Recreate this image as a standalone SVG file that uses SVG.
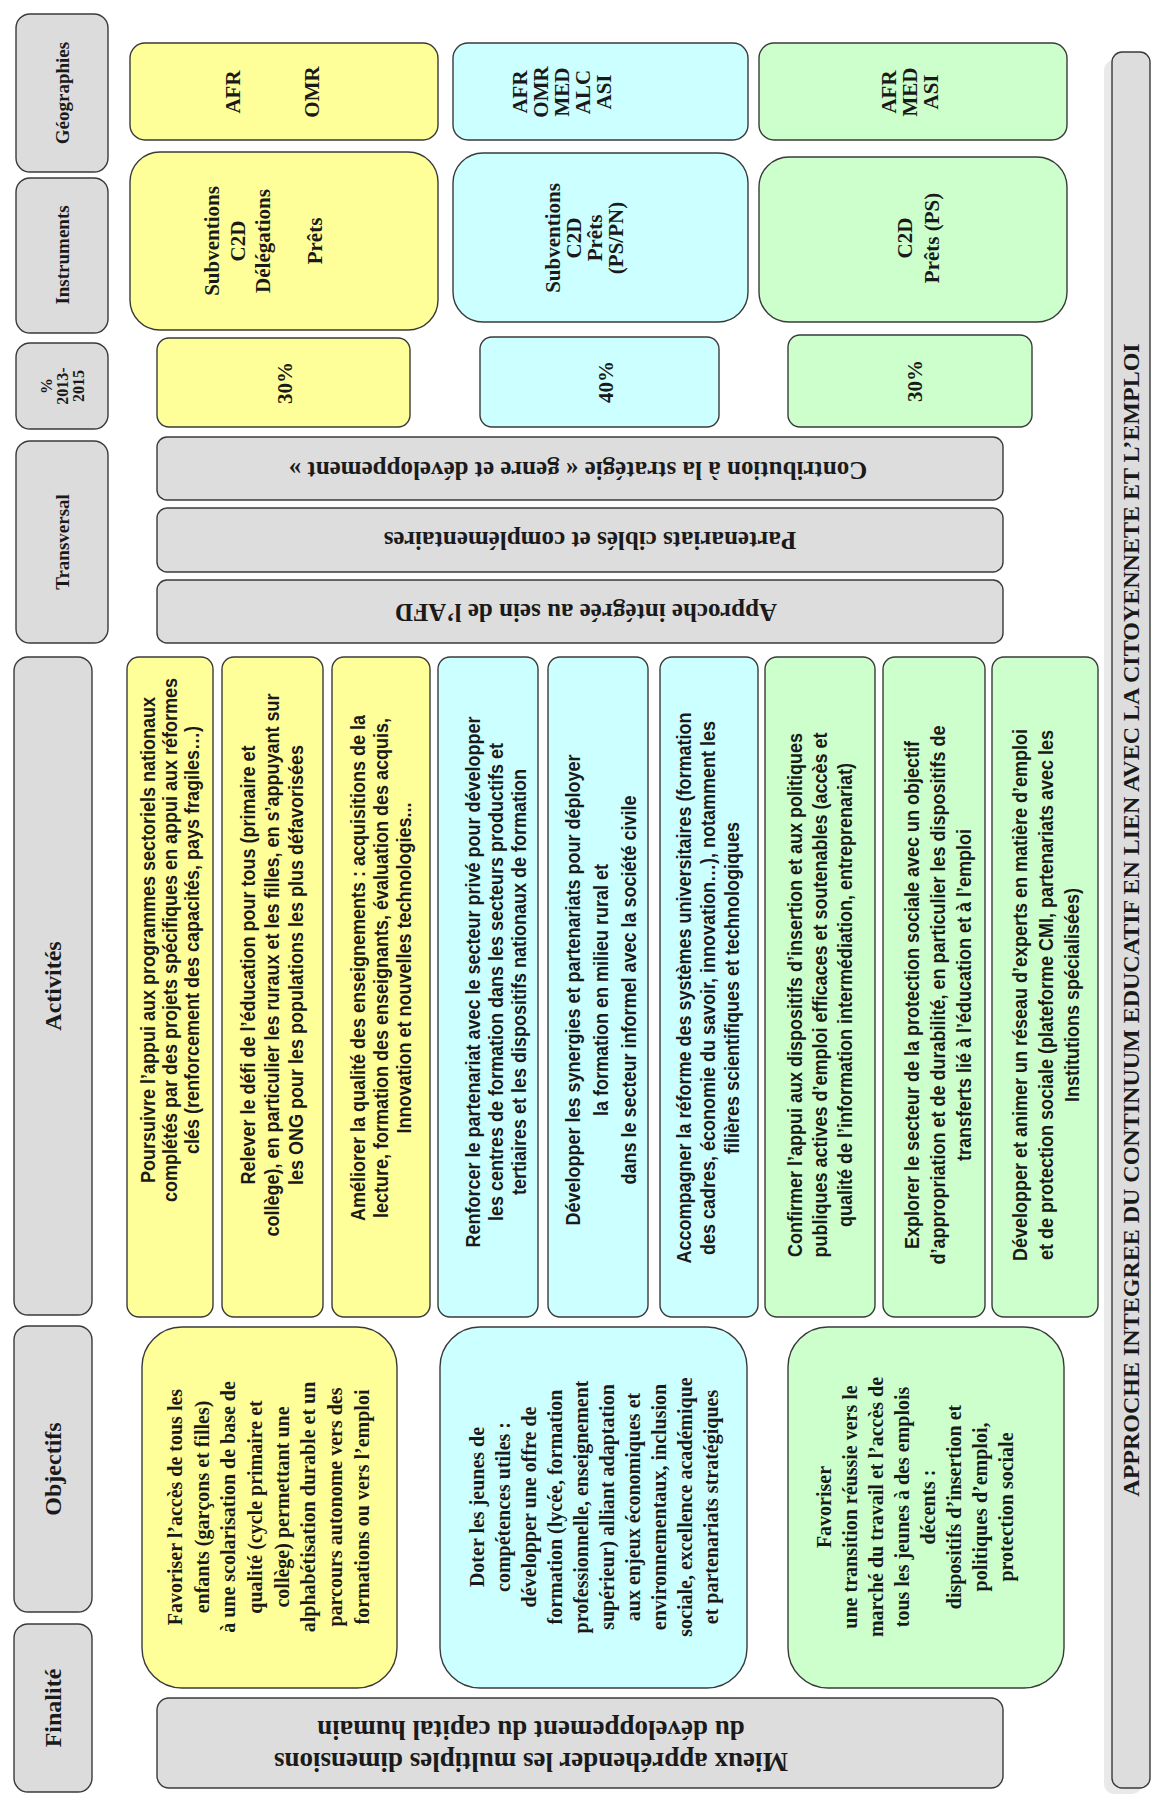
<svg xmlns="http://www.w3.org/2000/svg" width="1157" height="1800" viewBox="0 0 1157 1800">
<style>
.bx{stroke:#3a3a3a;stroke-width:1.4}
.hd{fill:#dcdcdc}
.ye{fill:#ffff99}
.cy{fill:#ccffff}
.gr{fill:#ccffcc}
.gy{fill:#dddddd}
text{font-family:'Liberation Serif','Times New Roman',serif;font-weight:bold;fill:#1a1a1a;text-anchor:middle;dominant-baseline:central}
.h1{font-size:19px}
.h2{font-size:24px}
.geo{font-size:21px}
.ob{font-size:20px}
.tr{font-size:25px}
.ac{font-family:'Liberation Sans',Arial,sans-serif;font-size:20px}
</style>
<rect width="1157" height="1800" fill="#ffffff"/>

<!-- Headers -->
<g id="h-geo"><rect class="bx hd" x="16" y="14" width="92" height="158" rx="14"/><text class="h1" transform="translate(62,93) rotate(-90)">Géographies</text></g>
<g id="h-instr"><rect class="bx hd" x="16" y="178" width="92" height="155" rx="14"/><text class="h1" transform="translate(62,255) rotate(-90)">Instruments</text></g>
<g id="h-pct"><rect class="bx hd" x="16" y="343" width="92" height="86" rx="14"/><g transform="translate(62,386) rotate(-90)"><text style="font-size:16px" y="-16">%</text><text style="font-size:16px" y="0">2013-</text><text style="font-size:16px" y="16">2015</text></g></g>
<g id="h-trans"><rect class="bx hd" x="16" y="441" width="92" height="202" rx="14"/><text class="h1" transform="translate(62,542) rotate(-90)">Transversal</text></g>
<g id="h-act"><rect class="bx hd" x="14" y="657" width="78" height="658" rx="14"/><text class="h2" transform="translate(53,986) rotate(-90)">Activités</text></g>
<g id="h-obj"><rect class="bx hd" x="14" y="1326" width="78" height="286" rx="14"/><text class="h2" transform="translate(53,1469) rotate(-90)">Objectifs</text></g>
<g id="h-fin"><rect class="bx hd" x="14" y="1624" width="78" height="168" rx="14"/><text class="h2" transform="translate(53,1708) rotate(-90)">Finalité</text></g>

<!-- Geographies -->
<g id="geo-y"><rect class="bx ye" x="130" y="43" width="308" height="97" rx="15"/><g transform="translate(0,92) rotate(-90)"><text class="geo" y="233">AFR</text><text class="geo" y="312">OMR</text></g></g>
<g id="geo-c"><rect class="bx cy" x="453" y="43" width="295" height="97" rx="15"/><g transform="translate(0,92) rotate(-90)"><text class="geo" y="520">AFR</text><text class="geo" y="541">OMR</text><text class="geo" y="562">MED</text><text class="geo" y="583">ALC</text><text class="geo" y="604">ASI</text></g></g>
<g id="geo-g"><rect class="bx gr" x="759" y="43" width="308" height="97" rx="15"/><g transform="translate(0,92) rotate(-90)"><text class="geo" y="889">AFR</text><text class="geo" y="910">MED</text><text class="geo" y="931">ASI</text></g></g>

<!-- Instruments -->
<g id="ins-y"><rect class="bx ye" x="130" y="152" width="308" height="178" rx="30"/><g transform="translate(0,241) rotate(-90)"><text class="geo" y="212">Subventions</text><text class="geo" y="238">C2D</text><text class="geo" y="263">Délégations</text><text class="geo" y="315">Prêts</text></g></g>
<g id="ins-c"><rect class="bx cy" x="453" y="153" width="295" height="169" rx="30"/><g transform="translate(0,238) rotate(-90)"><text class="geo" y="553">Subventions</text><text class="geo" y="574">C2D</text><text class="geo" y="595">Prêts</text><text class="geo" y="616">(PS/PN)</text></g></g>
<g id="ins-g"><rect class="bx gr" x="759" y="157" width="308" height="165" rx="30"/><g transform="translate(0,238) rotate(-90)"><text class="geo" y="905">C2D</text><text class="geo" y="932">Prêts (PS)</text></g></g>

<!-- Percentages -->
<g id="pct-y"><rect class="bx ye" x="157" y="338" width="253" height="89" rx="12"/><text class="geo" transform="translate(285,383) rotate(-90)">30%</text></g>
<g id="pct-c"><rect class="bx cy" x="480" y="337" width="239" height="90" rx="12"/><text class="geo" transform="translate(606,382) rotate(-90)">40%</text></g>
<g id="pct-g"><rect class="bx gr" x="788" y="335" width="244" height="92" rx="12"/><text class="geo" transform="translate(915,381) rotate(-90)">30%</text></g>

<!-- Transversal -->
<g id="tr-1"><rect class="bx gy" x="157" y="437" width="846" height="63" rx="10"/><text class="tr" transform="translate(578,470) rotate(180)">Contribution à la stratégie « genre et développement »</text></g>
<g id="tr-2"><rect class="bx gy" x="157" y="508" width="846" height="64" rx="10"/><text class="tr" transform="translate(590,540) rotate(180)">Partenariats ciblés et complémentaires</text></g>
<g id="tr-3"><rect class="bx gy" x="157" y="580" width="846" height="63" rx="10"/><text class="tr" transform="translate(586,612) rotate(180)">Approche intégrée au sein de l’AFD</text></g>

<!-- Activities -->
<g id="act-y1"><rect class="bx ye" x="127" y="657" width="86" height="660" rx="12"/><g transform="translate(0,940) rotate(-90) scale(0.9,1)"><text class="ac" y="148">Poursuivre l’appui aux programmes sectoriels nationaux</text><text class="ac" y="170">complétés par des projets spécifiques en appui aux réformes</text><text class="ac" y="192">clés (renforcement des capacités, pays fragiles…)</text></g></g>
<g id="act-y2"><rect class="bx ye" x="222" y="657" width="101" height="660" rx="12"/><g transform="translate(0,965) rotate(-90) scale(0.9,1)"><text class="ac" y="248">Relever le défi de l’éducation pour tous (primaire et</text><text class="ac" y="272">collège), en particulier les ruraux et les filles, en s’appuyant sur</text><text class="ac" y="296">les ONG pour les populations les plus défavorisées</text></g></g>
<g id="act-y3"><rect class="bx ye" x="332" y="657" width="98" height="660" rx="12"/><g transform="translate(0,968) rotate(-90) scale(0.9,1)"><text class="ac" y="358">Améliorer la qualité des enseignements : acquisitions de la</text><text class="ac" y="381">lecture, formation des enseignants, évaluation des acquis,</text><text class="ac" y="404">Innovation et nouvelles technologies...</text></g></g>
<g id="act-c1"><rect class="bx cy" x="438" y="657" width="100" height="660" rx="12"/><g transform="translate(0,982) rotate(-90) scale(0.9,1)"><text class="ac" y="473">Renforcer le partenariat avec le secteur privé pour développer</text><text class="ac" y="496">les centres de formation dans les secteurs productifs et</text><text class="ac" y="519">tertiaires et les dispositifs nationaux de formation</text></g></g>
<g id="act-c2"><rect class="bx cy" x="548" y="657" width="100" height="660" rx="12"/><g transform="translate(0,990) rotate(-90) scale(0.9,1)"><text class="ac" y="573">Développer les synergies et partenariats pour déployer</text><text class="ac" y="601">la formation en milieu rural et</text><text class="ac" y="629">dans le secteur informel avec la société civile</text></g></g>
<g id="act-c3"><rect class="bx cy" x="660" y="657" width="98" height="660" rx="12"/><g transform="translate(0,988) rotate(-90) scale(0.9,1)"><text class="ac" y="684">Accompagner la réforme des systèmes universitaires (formation</text><text class="ac" y="708">des cadres, économie du savoir, innovation…), notamment les</text><text class="ac" y="732">filières scientifiques et technologiques</text></g></g>
<g id="act-g1"><rect class="bx gr" x="765" y="657" width="110" height="660" rx="12"/><g transform="translate(0,995) rotate(-90) scale(0.9,1)"><text class="ac" y="795">Confirmer l’appui aux dispositifs d’insertion et aux politiques</text><text class="ac" y="820">publiques actives d’emploi efficaces et soutenables (accès et</text><text class="ac" y="845">qualité de l’information intermédiation, entreprenariat)</text></g></g>
<g id="act-g2"><rect class="bx gr" x="883" y="657" width="102" height="660" rx="12"/><g transform="translate(0,995) rotate(-90) scale(0.9,1)"><text class="ac" y="912">Explorer le secteur de la protection sociale avec un objectif</text><text class="ac" y="938">d’appropriation et de durabilité, en particulier les dispositifs de</text><text class="ac" y="964">transferts lié à l’éducation et à l’emploi</text></g></g>
<g id="act-g3"><rect class="bx gr" x="992" y="657" width="106" height="660" rx="12"/><g transform="translate(0,995) rotate(-90) scale(0.9,1)"><text class="ac" y="1020">Développer et animer un réseau d’experts en matière d’emploi</text><text class="ac" y="1046">et de protection sociale (plateforme CMI, partenariats avec les</text><text class="ac" y="1072">Institutions spécialisées)</text></g></g>

<!-- Objectives -->
<g id="obj-y"><rect class="bx ye" x="142" y="1327" width="255" height="361" rx="40"/><g transform="translate(0,1507) rotate(-90)"><text class="ob" y="175">Favoriser l’accès de tous les</text><text class="ob" y="202">enfants (garçons et filles)</text><text class="ob" y="228">à une scolarisation de base de</text><text class="ob" y="255">qualité (cycle primaire et</text><text class="ob" y="282">collège) permettant une</text><text class="ob" y="308">alphabétisation durable et un</text><text class="ob" y="335">parcours autonome vers des</text><text class="ob" y="362">formations ou vers l’emploi</text></g></g>
<g id="obj-c"><rect class="bx cy" x="440" y="1327" width="307" height="361" rx="40"/><g transform="translate(0,1507) rotate(-90)"><text class="ob" y="477">Doter les jeunes de</text><text class="ob" y="503">compétences utiles :</text><text class="ob" y="529">développer une offre de</text><text class="ob" y="555">formation (lycée, formation</text><text class="ob" y="581">professionnelle, enseignement</text><text class="ob" y="607">supérieur) alliant adaptation</text><text class="ob" y="633">aux enjeux économiques et</text><text class="ob" y="659">environnementaux, inclusion</text><text class="ob" y="685">sociale, excellence académique</text><text class="ob" y="711">et partenariats stratégiques</text></g></g>
<g id="obj-g"><rect class="bx gr" x="788" y="1327" width="276" height="361" rx="40"/><g transform="translate(0,1507) rotate(-90)"><text class="ob" y="824">Favoriser</text><text class="ob" y="850">une transition réussie vers le</text><text class="ob" y="876">marché du travail et l’accès de</text><text class="ob" y="902">tous les jeunes à des emplois</text><text class="ob" y="928">décents :</text><text class="ob" y="954">dispositifs d’insertion et</text><text class="ob" y="980">politiques d’emploi,</text><text class="ob" y="1006">protection sociale</text></g></g>

<!-- Finalité -->
<g id="finalite"><rect class="bx gy" x="157" y="1698" width="846" height="90" rx="12"/><g transform="translate(531,1746) rotate(180)"><text class="tr" style="font-size:27px" y="-16">Mieux appréhender les multiples dimensions</text><text class="tr" style="font-size:27px" y="16">du développement du capital humain</text></g></g>

<!-- Approche intégrée -->
<g id="approche"><rect x="1104" y="60" width="38" height="1734" rx="10" fill="#e9e9e9"/><rect class="bx gy" x="1112" y="52" width="38" height="1736" rx="10"/><text style="font-size:24px" transform="translate(1131,920) rotate(-90)">APPROCHE INTEGREE DU CONTINUUM EDUCATIF EN LIEN AVEC LA CITOYENNETE ET L’EMPLOI</text></g>

<g id="connectors"></g>
</svg>
